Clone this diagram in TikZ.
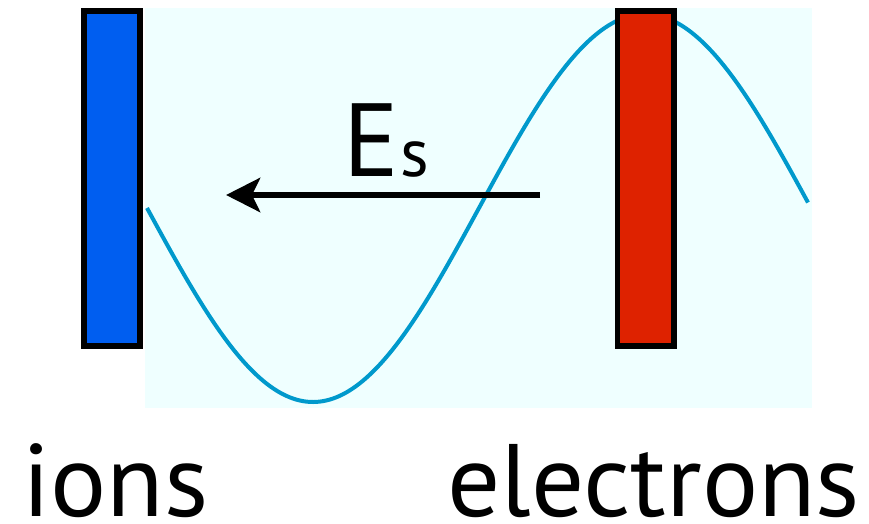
\documentclass[tikz,border=0pt]{standalone}
\usepackage{fontspec}
\setmainfont{PT Sans}
\newfontfamily\lblfont[FakeStretch=1.02]{PT Sans}
\usetikzlibrary{arrows.meta}
\definecolor{ionblue}{RGB}{0,94,240}
\definecolor{elecred}{RGB}{222,34,0}
\definecolor{bgcyan}{RGB}{239,255,255}
\definecolor{wave}{RGB}{0,153,204}
\tikzset{
  bar/.style={draw=black, line width=5.5pt, minimum height=335pt, inner sep=0pt},
  biglabel/.style={font=\lblfont\fontsize{103}{103}\selectfont, inner sep=0pt, text depth=0pt, anchor=base west},
}
\begin{document}
\begin{tikzpicture}[x=1pt,y=-1pt]
\useasboundingbox (0,0) rectangle (869,523);
\fill[bgcyan] (145,8) rectangle (812,408);
\node[bar, fill=ionblue, minimum width=56pt] (ions) at (112,178.5) {};
\draw[wave, line width=4pt] plot[domain=0:661, samples=200, smooth] ({\x+147}, {208+194*sin(0.542169*\x)});
\node[bar, fill=elecred, minimum width=56.5pt] (elec) at (645.75,178.5) {};
\coordinate (arrstart) at (540,195);
\coordinate (arrend) at (226,195);
\draw[line width=6.5pt, -{Stealth[length=34pt,width=34pt,inset=8pt]}] (arrstart) -- (arrend);
\node[inner sep=0pt, anchor=base west, font=\fontsize{104}{104}\selectfont] (E) at (343,176) {E};
\node[inner sep=0pt, anchor=base west, font=\fontsize{68}{68}\selectfont] (s) at ([xshift=1pt]E.base east) {s};
\node[biglabel] (ionstxt) at (22,516) {ions};
\node[biglabel] (electxt) at (447,516) {electrons};
\end{tikzpicture}
\end{document}
